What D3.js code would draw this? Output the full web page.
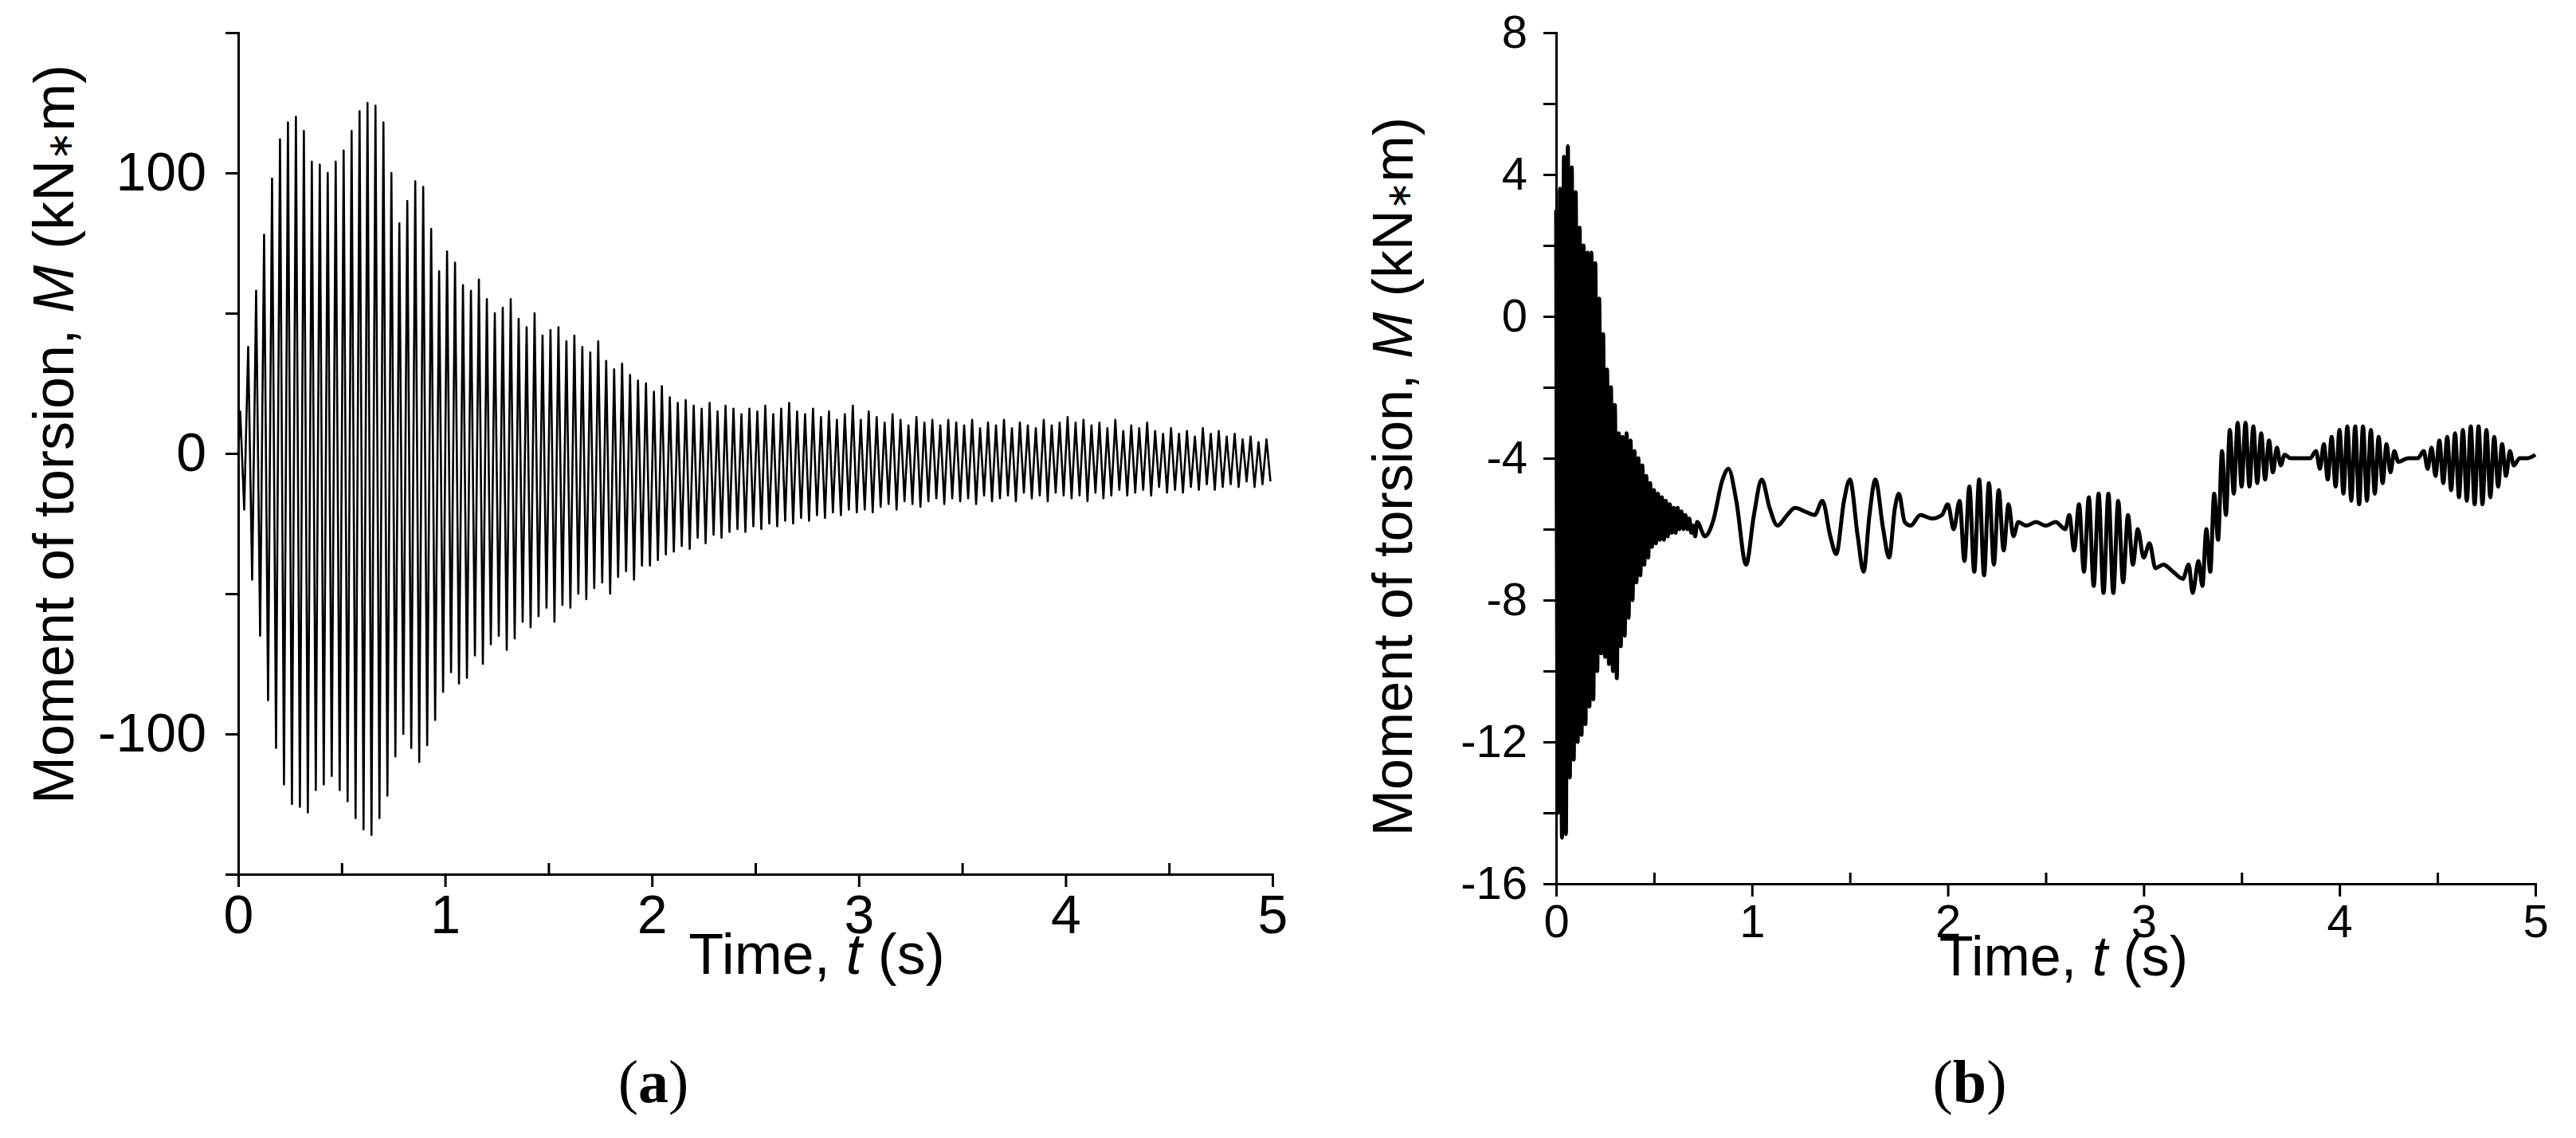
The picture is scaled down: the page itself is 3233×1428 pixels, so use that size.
<!DOCTYPE html>
<html>
<head>
<meta charset="utf-8" />
<script src="https://d3js.org/d3.v7.min.js"></script>
<style>
  body { margin: 0; background: #fff; }
  text { font-family: "Liberation Sans", Arial, sans-serif; fill: #000; }
  .cap { font-family: "Liberation Serif", "Times New Roman", serif; }
</style>
</head>
<body>
<svg id="chart" width="3233" height="1428"></svg>
<script>
// ---- panel (a): per-cycle peak values, 26 cycles per second ----
var cyclesPerSec = 26;
var highsA = [
  15, 38, 58, 78, 98, 112, 118, 120, 115, 104, 103, 100, 104,
  108, 115, 122, 125, 124, 118, 100, 82, 90, 97, 95, 80, 65,
  72, 68, 60, 58, 62, 55, 50, 52, 55, 48, 45, 50, 42,
  44, 45, 40, 42, 38, 36, 40, 33, 30, 32, 28, 26, 25,
  22, 24, 20, 18, 19, 17, 16, 18, 15, 17, 16, 14, 16,
  15, 17, 14, 16, 18, 15, 14, 16, 13, 15, 12, 14, 17,
  12, 15, 13, 11, 14, 12, 10, 13, 11, 12, 10, 12, 11,
  10, 12, 9, 11, 10, 12, 9, 11, 10, 9, 12, 10, 11,
  13, 11, 12, 10, 11, 9, 12, 8, 10, 9, 11, 8, 7,
  9, 7, 8, 6, 9, 7, 8, 6, 7, 5, 6, 4, 5
];
var lowsA = [
  -20, -45, -65, -88, -105, -118, -125, -126, -128, -120, -118, -115, -120,
  -124, -130, -134, -136, -130, -122, -108, -100, -105, -110, -104, -95, -85,
  -78, -82, -80, -72, -75, -68, -65, -70, -66, -60, -62, -58, -55,
  -60, -54, -55, -50, -52, -48, -46, -50, -44, -42, -45, -40, -40,
  -38, -36, -35, -33, -34, -30, -32, -29, -30, -28, -27, -28, -26,
  -27, -25, -26, -24, -25, -23, -24, -22, -23, -21, -22, -20, -21,
  -20, -21, -19, -18, -20, -17, -18, -19, -17, -16, -18, -16, -17,
  -16, -18, -15, -17, -16, -15, -17, -14, -16, -15, -17, -14, -15,
  -16, -15, -17, -14, -16, -15, -13, -15, -14, -13, -15, -12, -14,
  -13, -14, -12, -13, -11, -13, -12, -11, -12, -10, -12, -11, -10
];

// ---- panel (b): dense start (peaks every 0.02 s) then read points ----
var stepB = 0.02;
var highsB = [3, 3.6, 4.5, 4.8, 4.2, 3.5, 2.5, 2, 1.8, 1.8, 1.5, 0.5, -0.5, -1.5, -2, -2.5, -3.3, -3.4,
  -3.3, -3.5, -3.8, -4, -4.2, -4.5, -4.7, -4.9, -5, -5.1, -5.2, -5.3, -5.4, -5.4, -5.5, -5.6, -5.7, -5.9];
var lowsB = [-14, -14.7, -14.6, -13, -12.5, -12, -11.8, -11.5, -11, -10.8, -10, -9.5, -9.6, -9.8, -10, -10.2, -9.3, -9,
  -8.5, -8, -7.5, -7.3, -7, -6.8, -6.5, -6.4, -6.3, -6.3, -6.2, -6.1, -6.1, -6, -6, -6, -6.1, -6.2];
var tailB = [[0.72,-5.8],[0.76,-6.2],[0.8,-5.8],[0.85,-4.6],[0.88,-4.3],[0.92,-5.2],[0.97,-7.0],[1.01,-5.6],[1.05,-4.6],
  [1.09,-5.4],[1.13,-5.9],[1.18,-5.6],[1.22,-5.4],[1.27,-5.5],[1.32,-5.6],[1.36,-5.2],[1.40,-6.2],[1.43,-6.7],[1.47,-5.2],
  [1.50,-4.6],[1.54,-6.2],[1.57,-7.2],[1.60,-5.6],[1.63,-4.6],[1.67,-6.0],[1.70,-6.8],[1.73,-5.4],[1.75,-5.0],[1.78,-5.8],
  [1.81,-5.9],[1.86,-5.6],[1.92,-5.7],[1.97,-5.6],[2.0,-5.3],[2.03,-6.0],[2.06,-5.2],[2.085,-6.9],[2.11,-4.8],[2.135,-7.2],
  [2.16,-4.6],[2.185,-7.3],[2.21,-4.7],[2.235,-7.0],[2.26,-4.9],[2.285,-6.6],[2.31,-5.3],[2.335,-6.2],[2.36,-5.8],[2.40,-5.9],
  [2.45,-5.8],[2.5,-5.9],[2.55,-5.8],[2.6,-6.0],[2.62,-5.6],[2.645,-6.6],[2.67,-5.3],[2.695,-7.2],[2.72,-5.1],[2.745,-7.6],
  [2.77,-5.0],[2.795,-7.8],[2.82,-5.0],[2.845,-7.8],[2.87,-5.2],[2.895,-7.5],[2.92,-5.6],[2.945,-7.0],[2.97,-6.0],[3.0,-6.8],
  [3.03,-6.4],[3.06,-7.1],[3.1,-7.0],[3.15,-7.2],[3.2,-7.4],[3.23,-7.0],[3.25,-7.8],[3.28,-6.9],[3.30,-7.6],[3.32,-6.0],
  [3.34,-7.2],[3.36,-5.0],[3.38,-6.3],[3.40,-3.8],[3.42,-5.6],[3.44,-3.2],[3.46,-5.0],[3.48,-3.0],[3.50,-4.8],[3.52,-3.0],
  [3.54,-4.8],[3.56,-3.1],[3.58,-4.7],[3.60,-3.3],[3.62,-4.6],[3.64,-3.5],[3.66,-4.4],[3.68,-3.7],[3.70,-4.2],[3.72,-3.9],
  [3.75,-4.0],[3.8,-4.0],[3.85,-4.0],[3.88,-3.8],[3.90,-4.3],[3.92,-3.6],[3.94,-4.6],[3.96,-3.4],[3.98,-4.8],[4.00,-3.2],
  [4.02,-5.0],[4.04,-3.1],[4.06,-5.2],[4.08,-3.1],[4.10,-5.3],[4.12,-3.1],[4.14,-5.2],[4.16,-3.2],[4.18,-5.0],[4.20,-3.4],
  [4.22,-4.7],[4.24,-3.6],[4.26,-4.4],[4.28,-3.8],[4.30,-4.1],[4.35,-4.0],[4.40,-4.0],[4.43,-3.8],[4.45,-4.3],[4.47,-3.7],
  [4.49,-4.5],[4.51,-3.5],[4.53,-4.7],[4.55,-3.4],[4.57,-4.9],[4.59,-3.3],[4.61,-5.1],[4.63,-3.2],[4.65,-5.2],[4.67,-3.1],
  [4.69,-5.3],[4.71,-3.1],[4.73,-5.3],[4.75,-3.2],[4.77,-5.1],[4.79,-3.4],[4.81,-4.8],[4.83,-3.6],[4.85,-4.5],[4.87,-3.8],
  [4.89,-4.2],[4.92,-4.0],[4.96,-4.0],[5.0,-3.9]];

var xTicks = [0, 1, 2, 3, 4, 5];
var xMinor = [0.5, 1.5, 2.5, 3.5, 4.5];
var yTicksA = [-100, 0, 100], yMinorA = [-150, -50, 50, 150];
var yTicksB = [-16, -12, -8, -4, 0, 4, 8], yMinorB = [-14, -10, -6, -2, 2, 6];

// build series
var seriesA = [[0, 0]];
highsA.forEach(function(h, i) {
  seriesA.push([(i + 0.25) / cyclesPerSec, h]);
  seriesA.push([(i + 0.75) / cyclesPerSec, lowsA[i]]);
});
var seriesB = [];
highsB.forEach(function(h, i) {
  seriesB.push([i * stepB, h]);
  seriesB.push([i * stepB + stepB / 2, lowsB[i]]);
});
seriesB = seriesB.concat(tailB);

var svg = d3.select("#chart");
var fmt = function(d) { return String(d); }; // plain hyphen minus, as in the reference

function panel(o) {
  var x = d3.scaleLinear().domain([0, 5]).range([o.x0, o.x1]);
  var y = d3.scaleLinear().domain(o.yDomain).range([o.y0, o.y1]);
  var g = svg.append("g");

  g.append("path")
    .datum(o.data)
    .attr("fill", "none")
    .attr("stroke", "#000")
    .attr("stroke-width", o.lw)
    .attr("stroke-linejoin", "round")
    .attr("d", d3.line().x(function(d) { return x(d[0]); }).y(function(d) { return y(d[1]); }).curve(o.curve));

  var xa = g.append("g").attr("transform", "translate(0," + o.y0 + ")")
    .call(d3.axisBottom(x).tickValues(xTicks).tickSize(16).tickPadding(10).tickFormat(fmt));
  g.append("g").attr("transform", "translate(0," + o.y0 + ")")
    .call(d3.axisTop(x).tickValues(xMinor).tickSize(14).tickFormat(""))
    .select(".domain").remove();
  var ya = g.append("g").attr("transform", "translate(" + o.x0 + ",0)")
    .call(d3.axisLeft(y).tickValues(o.yTicks).tickSize(16).tickPadding(o.yPad).tickFormat(fmt));
  g.append("g").attr("transform", "translate(" + o.x0 + ",0)")
    .call(d3.axisLeft(y).tickValues(o.yMinor).tickSize(16).tickFormat(""))
    .select(".domain").remove();

  g.selectAll(".domain").attr("stroke-width", 3);
  g.selectAll(".tick line").attr("stroke-width", 3);
  xa.selectAll("text").style("font-size", o.fs + "px");
  ya.selectAll("text").style("font-size", o.fs + "px");

  var xt = g.append("text").attr("x", o.xtx).attr("y", o.xty).attr("text-anchor", "middle")
    .style("font-size", o.ts + "px");
  xt.append("tspan").text("Time, ");
  xt.append("tspan").style("font-style", "italic").text("t");
  xt.append("tspan").text(" (s)");

  var yt = g.append("text").attr("text-anchor", "middle")
    .attr("transform", "translate(" + o.ytx + "," + o.yty + ") rotate(-90)")
    .style("font-size", o.ts + "px");
  yt.append("tspan").text("Moment of torsion, ");
  yt.append("tspan").style("font-style", "italic").text("M");
  yt.append("tspan").text(" (kN");
  yt.append("tspan").style("font-size", "0.6em").attr("dy", "-0.05em").text("\u2217");
  yt.append("tspan").attr("dy", "0.05em").text("m)");

  var c = g.append("text").attr("class", "cap").attr("x", o.capx).attr("y", 1383)
    .attr("text-anchor", "middle").style("font-size", "76px");
  c.append("tspan").text("(");
  c.append("tspan").style("font-weight", "bold").text(o.cap);
  c.append("tspan").text(")");
}

panel({ x0: 299, x1: 1597, y0: 1097, y1: 41, yDomain: [-150, 150], data: seriesA, lw: 2.6,
  curve: d3.curveLinear, yTicks: yTicksA, yMinor: yMinorA, yPad: 24, fs: 68, ts: 72,
  xtx: 1025, xty: 1222, ytx: 92, yty: 545, capx: 820, cap: "a" });
panel({ x0: 1953, x1: 3182, y0: 1109, y1: 41, yDomain: [-16, 8], data: seriesB, lw: 5,
  curve: d3.curveMonotoneX, yTicks: yTicksB, yMinor: yMinorB, yPad: 20, fs: 58, ts: 70,
  xtx: 2590, xty: 1224, ytx: 1772, yty: 598, capx: 2472, cap: "b" });
</script>
</body>
</html>
